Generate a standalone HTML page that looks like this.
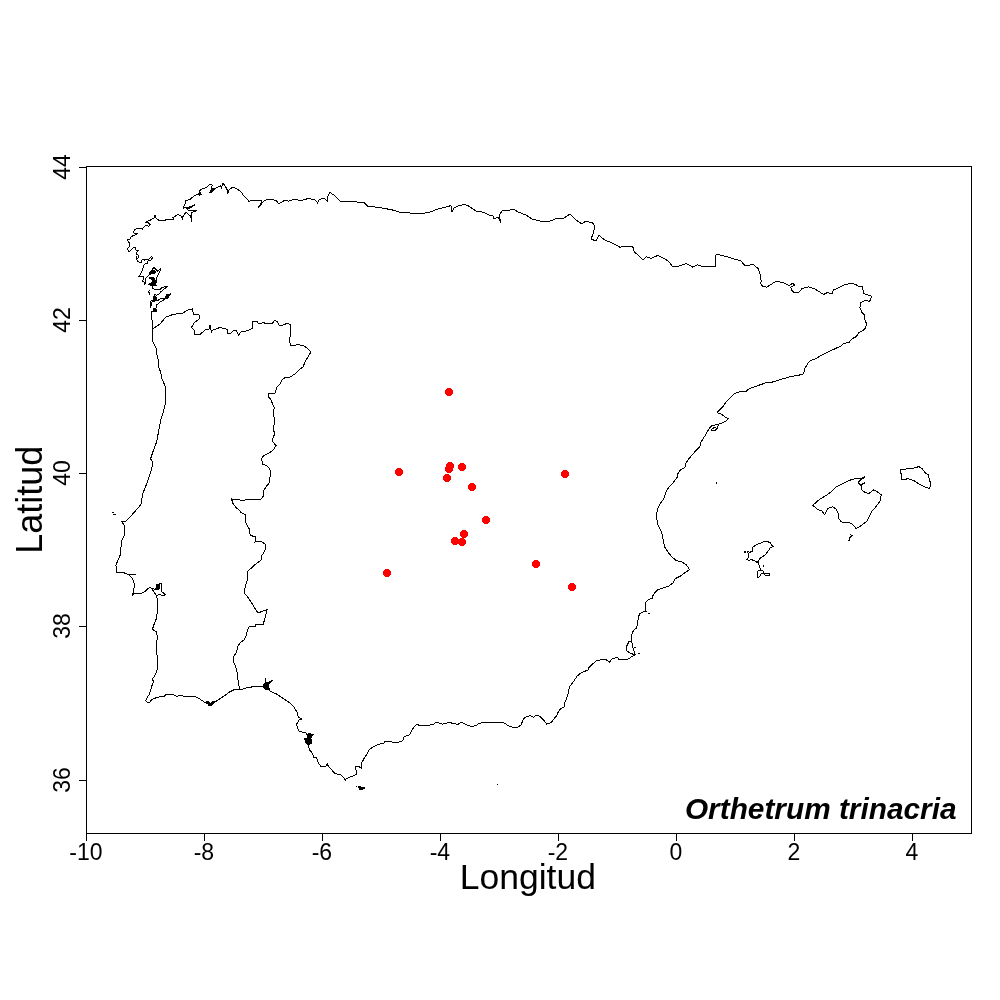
<!DOCTYPE html>
<html><head><meta charset="utf-8"><title>Orthetrum trinacria</title>
<style>html,body{margin:0;padding:0;background:#fff;width:1000px;height:1000px;overflow:hidden}svg{display:block}</style>
</head><body>
<svg width="1000" height="1000" viewBox="0 0 1000 1000">
<rect x="0" y="0" width="1000" height="1000" fill="#fff"/>
<g fill="none" stroke="#000" stroke-width="1" stroke-linejoin="miter" shape-rendering="crispEdges">
<path d="M152.0 320.0 L151.5 316.8 L151.3 313.6 L151.6 311.4 L157.1 311.4 L153.9 310.4 L153.6 308.8 L155.5 308.5 L156.4 307.2 L156.8 304.6 L158.7 303.4 L160.9 301.4 L163.2 300.5 L164.8 298.9 L168.3 297.9 L168.3 296.3 L170.5 293.8 L166.4 295.0 L165.4 297.6 L163.5 298.9 L160.3 298.6 L158.4 300.2 L154.2 301.1 L152.0 301.8 L151.6 304.6 L150.5 306.6 L150.4 303.4 L151.0 301.1 L153.6 300.2 L153.6 297.6 L154.5 296.3 L154.5 294.4 L156.4 295.4 L159.0 293.9 L161.2 291.4 L164.1 289.2 L167.3 286.3 L162.3 287.4 L159.4 289.9 L155.1 289.9 L152.9 288.5 L152.6 286.3 L148.6 284.5 L152.6 285.6 L156.2 285.2 L155.4 283.4 L156.9 281.3 L156.2 278.4 L158.3 274.8 L159.8 271.2 L161.2 267.6 L157.6 271.2 L155.8 269.4 L154.0 267.6 L151.1 270.8 L149.7 272.6 L149.3 274.8 L146.8 277.0 L145.7 278.4 L145.4 282.4 L144.6 284.5 L144.3 282.0 L142.1 280.9 L143.6 279.1 L143.2 276.6 L139.2 276.2 L140.3 274.4 L142.1 271.2 L143.2 266.9 L144.0 265.0 L145.6 263.4 L147.6 263.0 L148.0 261.0 L151.2 259.8 L152.4 257.8 L151.6 256.6 L148.8 259.0 L146.4 259.8 L144.4 260.2 L144.0 259.0 L142.0 259.8 L141.6 262.2 L140.0 263.0 L138.0 261.4 L136.6 259.4 L136.8 257.4 L137.6 258.6 L139.2 257.0 L138.4 255.4 L136.0 253.8 L137.2 251.8 L138.2 250.4 L135.2 249.8 L135.2 247.8 L133.6 247.8 L132.0 248.8 L130.4 250.6 L129.0 252.2 L128.6 251.0 L127.4 249.2 L128.6 247.4 L129.6 246.2 L130.0 244.2 L129.2 242.6 L128.0 241.0 L127.6 239.4 L130.0 239.0 L130.8 237.0 L131.0 236.8 L133.4 235.6 L138.2 233.5 L134.6 233.2 L132.8 232.0 L134.0 231.4 L134.6 229.3 L138.2 228.7 L142.4 229.0 L144.8 226.0 L147.2 225.4 L148.7 226.6 L150.2 224.8 L148.4 222.7 L145.7 222.4 L146.6 221.2 L150.2 220.6 L151.4 219.1 L154.4 217.9 L155.0 215.5 L155.6 217.9 L157.4 219.4 L159.8 220.9 L163.4 220.9 L167.0 219.4 L173.6 219.1 L173.0 217.6 L174.8 216.4 L177.8 214.6 L180.8 215.8 L182.9 219.4 L182.6 217.0 L185.0 213.4 L185.6 212.3 L187.7 213.7 L190.5 216.1 L191.9 221.4 L191.5 215.8 L191.9 212.3 L196.8 210.9 L189.1 210.9 L187.0 208.8 L190.5 207.7 L195.0 204.6 L191.2 206.7 L186.3 207.4 L183.5 208.1 L184.5 204.9 L185.9 202.5 L185.6 200.7 L190.5 199.0 L193.3 196.5 L197.5 194.4 L200.3 194.8 L199.6 192.0 L200.3 189.5 L204.5 188.1 L207.6 186.7 L209.4 184.6 L212.2 185.0 L211.8 187.8 L210.1 192.0 L212.9 189.9 L215.0 188.5 L217.8 187.1 L220.6 185.7 L221.6 188.5 L222.0 185.7 L222.7 183.6 L224.1 184.3 L225.5 186.4 L227.2 189.9 L227.9 193.0 L229.0 189.9 L231.8 187.8 L234.6 187.8 L237.4 189.2 L240.9 191.6 L243.0 194.8 L248.1 200.2 L248.1 202.0 L250.8 200.7 L261.6 200.7 L260.7 203.8 L258.0 208.3 L263.4 201.6 L267.0 199.3 L276.0 200.2 L278.7 203.8 L285.0 200.2 L288.6 201.1 L294.9 199.3 L301.2 200.7 L308.4 198.4 L315.6 200.2 L317.4 202.9 L319.2 199.3 L324.6 198.4 L327.3 201.1 L328.2 194.8 L330.0 192.6 L333.6 194.8 L337.2 198.4 L340.8 202.0 L343.5 201.6 L357.0 202.0 L364.2 202.4 L367.8 206.5 L371.4 206.5 L384.0 208.3 L393.0 210.1 L402.0 212.8 L410.0 213.0 L422.0 213.6 L430.0 212.0 L438.0 209.0 L446.0 207.0 L451.0 205.6 L452.0 212.0 L454.0 208.0 L458.0 206.0 L464.0 204.4 L468.0 205.6 L473.0 209.0 L476.0 211.0 L484.0 212.4 L489.0 215.0 L493.0 216.0 L494.0 219.0 L498.0 217.0 L501.0 223.0 L499.0 215.0 L503.0 210.0 L510.0 210.0 L513.6 209.0 L518.0 212.0 L526.0 215.0 L532.0 219.0 L540.0 221.0 L550.0 221.0 L558.0 218.0 L564.0 218.0 L570.0 214.0 L576.0 220.0 L582.0 224.0 L585.0 221.6 L592.0 222.4 L595.0 226.0 L593.0 234.0 L591.0 239.0 L596.0 241.0 L599.0 235.0 L602.0 238.0 L606.4 240.8 L612.8 243.2 L620.0 247.2 L625.6 246.4 L632.8 246.9 L634.4 252.0 L638.4 255.2 L642.9 260.0 L646.4 256.8 L651.2 258.4 L657.6 255.5 L664.0 258.4 L668.8 261.6 L672.8 266.7 L676.8 266.7 L686.4 263.5 L692.8 267.2 L697.6 264.8 L702.4 266.7 L712.0 266.1 L716.0 266.7 L715.2 255.2 L717.6 254.4 L728.0 257.1 L734.4 259.2 L740.8 260.8 L744.8 265.6 L753.6 264.5 L758.4 269.0 L760.5 276.0 L761.2 281.6 L760.5 283.0 L762.6 286.5 L766.8 287.2 L771.0 284.4 L775.2 281.9 L779.4 281.9 L783.6 283.0 L789.2 285.8 L792.7 283.0 L794.8 285.1 L790.6 287.2 L792.0 290.7 L794.8 293.1 L799.7 291.7 L801.8 288.6 L808.8 286.9 L814.4 288.6 L820.0 292.1 L823.5 294.5 L827.0 292.8 L832.6 293.5 L833.3 290.0 L838.2 287.9 L845.2 284.4 L850.8 283.7 L855.0 284.1 L859.2 286.5 L862.7 286.9 L863.4 293.5 L867.6 294.9 L871.8 296.3 L869.7 301.2 L864.8 300.5 L860.6 302.6 L859.9 307.5 L862.0 312.4 L864.8 315.2 L864.6 319.2 L866.7 324.1 L865.3 328.3 L863.2 330.4 L859.0 332.5 L856.2 336.7 L852.0 338.8 L849.2 342.3 L843.6 343.7 L840.1 346.5 L835.2 348.6 L826.8 352.8 L819.8 356.3 L815.6 358.7 L809.3 361.2 L807.2 364.7 L804.4 368.9 L803.7 373.8 L798.8 375.2 L790.4 376.6 L782.0 379.1 L773.6 381.9 L766.6 382.6 L759.6 385.0 L754.0 387.1 L752.0 387.6 L748.0 389.6 L745.6 392.0 L740.8 391.6 L736.0 392.8 L733.6 394.4 L729.6 398.4 L725.6 402.4 L723.2 406.4 L720.0 409.6 L717.6 412.0 L718.4 413.6 L720.8 413.6 L724.8 416.8 L728.0 418.4 L726.4 420.8 L721.6 423.2 L717.6 424.4 L712.0 425.6 L709.6 428.0 L707.2 432.0 L705.6 435.2 L703.2 438.4 L700.8 442.4 L700.0 446.4 L696.0 450.4 L692.8 454.4 L689.0 458.4 L686.2 462.6 L684.8 467.5 L680.6 469.6 L677.8 473.8 L677.1 477.3 L673.6 482.2 L669.4 486.4 L665.9 492.0 L663.8 499.0 L661.0 502.5 L658.2 507.4 L656.8 513.0 L656.8 518.6 L658.2 525.6 L661.7 532.6 L663.1 539.6 L664.5 546.6 L668.0 552.2 L672.2 557.1 L676.4 560.6 L682.0 562.0 L686.2 564.8 L689.7 569.7 L686.2 571.8 L680.6 576.0 L675.0 578.8 L672.9 583.0 L668.8 586.0 L664.0 587.8 L658.0 589.6 L654.4 593.2 L652.6 596.2 L652.0 598.6 L649.0 599.2 L646.0 602.2 L645.4 606.4 L646.0 611.2 L641.8 612.4 L639.4 614.2 L638.2 618.4 L637.6 624.4 L636.4 628.0 L633.4 630.4 L631.6 635.2 L631.6 641.2 L633.0 648.0 L635.2 655.0 L631.6 656.8 L628.0 659.2 L623.2 659.8 L618.4 659.8 L617.8 657.4 L612.4 658.6 L609.4 662.2 L606.4 659.8 L601.6 659.8 L596.8 660.4 L592.0 664.6 L589.0 667.6 L587.8 670.6 L584.4 671.2 L580.8 673.0 L577.2 676.0 L574.8 679.6 L572.4 683.2 L569.4 686.8 L568.2 693.4 L566.4 699.4 L564.6 703.0 L564.0 707.2 L560.4 709.0 L558.0 712.6 L556.8 715.6 L554.4 718.0 L552.6 721.0 L549.6 723.4 L546.6 724.0 L544.8 721.6 L541.2 717.4 L538.8 715.6 L535.8 715.6 L533.4 717.2 L529.8 715.6 L525.0 717.4 L522.6 720.4 L521.4 724.6 L518.4 727.0 L512.4 727.2 L508.2 725.8 L504.0 722.8 L500.4 722.4 L498.0 722.8 L492.0 722.4 L483.4 722.6 L479.0 723.3 L475.7 725.9 L470.2 726.2 L466.9 724.8 L463.6 723.1 L460.9 722.6 L458.1 724.2 L453.2 723.7 L450.4 722.6 L446.0 723.1 L442.7 724.2 L439.4 723.1 L435.6 722.6 L433.9 724.0 L429.5 725.1 L419.6 725.3 L416.3 724.4 L414.1 727.0 L411.9 730.3 L409.7 734.7 L406.4 735.8 L404.2 736.9 L402.6 740.7 L399.8 741.6 L396.5 742.9 L392.7 742.4 L389.9 741.3 L385.0 741.5 L384.0 743.2 L380.0 744.0 L376.0 745.5 L372.0 747.5 L369.0 750.0 L367.0 754.0 L364.5 757.5 L363.0 760.5 L361.5 763.0 L361.2 768.0 L359.5 767.0 L358.0 766.5 L355.5 766.8 L356.0 770.0 L356.0 774.5 L354.0 775.5 L350.0 777.0 L346.0 779.0 L345.5 780.0 L344.0 778.0 L341.0 775.0 L335.0 773.5 L333.0 771.5 L328.0 765.5 L327.5 763.5 L326.0 766.0 L320.5 766.0 L319.0 764.0 L316.5 758.0 L313.5 757.0 L312.7 753.5 L310.0 750.5 L308.5 746.5 L307.5 744.0 L305.5 742.0 L306.0 740.0 L304.0 738.5 L306.5 739.0 L308.0 740.5 L310.0 740.0 L311.0 737.5 L313.5 734.5 L311.0 734.5 L309.5 733.5 L307.0 734.5 L305.5 732.2 L302.0 732.0 L299.5 731.9 L298.0 729.0 L296.5 725.0 L296.8 723.8 L299.0 720.0 L301.8 718.9 L298.5 717.2 L296.8 711.7 L293.5 706.2 L289.1 702.4 L282.5 698.0 L275.9 693.6 L271.5 691.9 L268.2 689.7 L266.0 687.5 L262.7 686.4 L255.0 686.6 L247.3 687.5 L242.9 689.2 L239.6 689.9 L234.1 689.7 L229.7 691.9 L225.3 695.2 L218.7 699.6 L214.3 702.4 L211.0 705.2 L207.0 703.6 L203.0 701.2 L199.0 698.4 L195.8 696.8 L191.0 696.6 L187.8 697.0 L184.6 696.4 L182.2 695.6 L176.6 696.2 L173.4 694.8 L169.4 694.2 L165.4 694.4 L164.6 696.8 L162.2 696.0 L158.2 697.2 L154.2 698.4 L151.0 700.4 L149.0 703.2 L145.4 700.8 L147.0 698.0 L149.4 694.0 L150.6 690.0 L151.8 686.0 L153.4 682.0 L152.6 678.8 L155.8 674.0 L157.0 670.0 L157.8 666.0 L157.4 662.0 L156.6 648.0 L157.2 636.0 L156.6 631.8 L152.4 629.4 L154.2 624.0 L156.6 618.0 L157.8 607.2 L157.2 600.0 L156.8 596.0 L158.5 594.5 L161.0 595.0 L164.0 595.5 L165.5 594.8 L163.0 592.5 L161.3 591.5 L161.3 583.2 L160.0 583.2 L159.5 585.5 L158.5 584.2 L156.5 584.2 L156.5 587.5 L155.5 589.5 L153.0 588.6 L151.4 588.0 L149.6 587.6 L146.9 589.4 L144.5 591.8 L141.8 593.0 L140.0 593.3 L135.0 593.4 L132.6 595.2 L133.8 590.4 L134.4 584.4 L132.6 578.4 L129.0 574.8 L135.6 574.2 L127.2 574.2 L123.0 572.4 L117.0 572.4 L116.4 567.6 L115.8 565.8 L117.6 561.0 L120.0 555.6 L121.8 540.4 L124.8 534.4 L124.8 526.0 L121.8 521.8 L126.0 521.2 L133.8 512.8 L141.0 504.4 L142.8 493.6 L145.2 487.6 L148.8 478.0 L151.8 468.4 L153.0 462.4 L150.6 458.8 L153.0 451.6 L156.6 442.0 L158.8 430.4 L160.0 424.0 L161.2 418.4 L162.8 413.6 L164.0 408.8 L165.2 404.0 L166.0 398.4 L165.6 393.6 L165.2 386.4 L163.6 382.4 L161.6 378.4 L160.8 372.0 L159.2 368.8 L158.2 364.8 L158.6 360.0 L157.5 358.0 L156.0 348.0 L152.5 341.0 L152.0 329.0Z"/>
<path d="M152.5 329.0 L160.0 324.0 L166.0 317.0 L173.0 314.5 L183.0 313.0 L188.0 310.0 L192.5 309.0 L193.5 314.5 L199.0 315.0 L199.0 319.0 L194.0 323.0 L191.5 327.5 L194.0 330.0 L195.0 334.5 L200.0 334.5 L205.0 330.0 L209.0 329.5 L210.0 325.5 L211.5 332.0 L213.0 330.0 L220.0 327.5 L224.0 328.5 L227.5 329.5 L227.5 333.5 L231.0 333.0 L233.5 330.5 L236.5 331.0 L238.5 335.0 L241.0 332.0 L245.0 331.5 L250.0 329.5 L252.5 328.0 L252.5 321.5 L257.0 321.5 L259.0 324.0 L263.0 322.5 L266.0 323.5 L272.0 324.0 L274.5 320.5 L277.5 321.5 L279.0 325.0 L283.0 325.0 L288.0 323.0 L290.5 325.0 L290.0 329.0 L291.0 334.0 L289.0 340.0 L290.5 345.0 L294.0 346.0 L297.0 344.5 L303.0 345.5 L307.0 348.0 L311.0 352.0 L308.0 357.0 L305.0 362.0 L303.0 367.0 L299.0 370.0 L295.0 374.0 L290.0 377.0 L285.0 377.5 L282.0 380.0 L280.0 384.0 L277.0 387.0 L275.0 393.0 L268.0 394.0 L268.0 396.0 L271.0 400.0 L273.0 405.0 L274.2 407.2 L273.6 414.4 L274.8 422.8 L273.0 428.8 L274.8 433.6 L272.4 439.6 L273.0 442.0 L276.0 445.6 L274.2 448.6 L271.2 451.6 L267.0 454.0 L263.4 455.8 L261.6 458.8 L262.8 464.2 L266.4 465.4 L269.4 468.4 L270.6 472.0 L270.0 476.8 L269.4 482.8 L266.4 486.4 L264.0 490.0 L263.4 496.0 L261.0 499.0 L255.0 499.4 L246.6 499.6 L243.0 500.8 L238.2 499.6 L231.6 499.0 L232.8 503.2 L235.8 507.4 L239.4 510.4 L241.0 512.5 L246.0 515.0 L245.0 521.0 L247.0 525.0 L249.5 529.5 L249.0 533.0 L251.0 535.5 L255.5 537.0 L255.0 542.0 L261.0 541.5 L265.0 544.0 L266.0 548.5 L264.0 552.0 L261.0 557.0 L261.0 560.0 L258.5 562.0 L255.0 564.5 L252.0 567.5 L248.0 571.0 L247.5 579.0 L246.0 584.0 L244.5 590.0 L244.0 593.0 L247.0 596.0 L251.0 602.0 L253.0 605.0 L256.0 610.0 L258.0 613.0 L263.0 611.0 L267.0 609.5 L265.5 616.0 L264.0 621.5 L263.0 625.0 L259.0 624.5 L256.0 624.0 L255.0 626.5 L249.0 627.0 L247.5 630.0 L246.0 636.0 L244.0 640.0 L240.0 643.0 L238.0 646.0 L236.5 652.0 L233.5 657.0 L233.0 661.0 L235.5 666.0 L237.0 672.0 L238.0 680.0 L239.0 686.0 L239.6 689.9"/>
<path d="M812.7 505.4 L819.0 499.8 L826.0 495.6 L831.6 491.4 L835.8 487.2 L842.8 483.7 L849.8 480.2 L856.8 478.1 L859.6 478.8 L865.2 476.7 L860.3 480.2 L858.2 482.3 L860.3 485.1 L865.2 482.3 L861.0 485.8 L861.0 489.3 L864.5 492.1 L868.7 493.5 L873.6 490.0 L877.1 491.7 L881.3 494.9 L879.9 501.2 L876.4 506.1 L872.2 511.0 L869.4 516.6 L866.6 521.5 L861.0 525.7 L856.1 528.5 L852.6 524.3 L849.8 522.9 L841.4 521.9 L838.6 518.7 L837.9 512.4 L836.5 509.6 L833.0 506.8 L828.1 508.2 L826.0 512.4 L824.6 514.5 L821.8 511.0 L817.6 509.6 L814.8 506.8 L812.7 505.4Z"/>
<path d="M900.9 469.7 L908.6 468.7 L917.0 467.6 L918.4 466.2 L922.6 469.0 L924.7 472.5 L928.2 474.6 L929.6 480.9 L931.0 483.0 L929.6 488.6 L925.4 487.2 L919.8 484.4 L914.2 480.9 L908.6 478.8 L901.6 479.5 L901.6 474.6 L900.2 471.8 L900.9 469.7Z"/>
<path d="M752.6 551.5 L752.6 547.6 L754.8 545.7 L758.7 543.8 L763.6 541.8 L768.0 541.8 L770.8 543.2 L771.3 544.9 L773.5 546.8 L770.8 547.1 L769.1 549.8 L767.5 552.0 L764.7 555.3 L760.9 557.5 L759.2 559.7 L758.1 561.6 L757.0 562.5 L754.8 560.8 L751.5 559.7 L748.8 560.3 L746.8 559.7 L748.2 557.5 L748.8 554.2 L747.4 551.5 L749.3 552.3 L752.6 551.5Z"/>
<path d="M757.6 571.3 L757.6 577.3 L759.8 576.8 L760.9 574.0 L763.6 573.5 L765.8 575.7 L769.7 575.7 L769.1 573.5 L764.7 574.0 L763.0 570.7 L759.2 570.7 L757.6 571.3Z"/>
<path d="M850.5 534.5 L852.0 535.5 L850.0 537.5 L849.5 539.0 L848.6 540.4 L850.5 539.5"/>
<path d="M758.1 561.6 L759.8 567.4 L760.9 570.2"/>
<path d="M718.4 425.2 L717.0 428.5 L714.5 430.8 L712.0 430.8 L711.6 429.2 L713.6 428.0 L716.0 427.5"/>
<path d="M631.6 641.2 L629.2 641.2 L626.2 647.2 L626.8 650.8 L630.4 653.2 L635.2 655.0"/>
<path d="M151.4 588.2 L153.5 591.2 L156.8 596.0"/>
</g>
<g fill="#000" stroke="none" shape-rendering="crispEdges">
<path d="M262.5 686.0 L263.5 684.0 L264.6 682.5 L264.8 679.5 L265.5 678.0 L266.2 679.5 L266.3 682.0 L267.5 682.5 L270.5 680.8 L273.6 679.2 L273.0 680.5 L269.5 684.0 L269.3 686.5 L269.8 689.5 L268.0 690.5 L265.0 689.5 L262.5 687.5Z"/>
<path d="M205.5 700.5 L207.0 701.5 L208.5 701.0 L210.0 703.0 L211.5 701.5 L213.0 700.8 L216.0 700.5 L214.0 703.0 L212.0 705.0 L210.5 706.5 L208.5 705.5 L206.5 703.0Z"/>
<path d="M306.5 734.5 L309.0 733.2 L311.0 733.5 L313.9 733.5 L313.5 735.0 L311.0 736.0 L310.5 738.0 L312.0 740.0 L312.5 742.5 L311.0 744.0 L308.5 745.0 L307.0 744.2 L306.0 741.5 L304.0 740.0 L303.2 739.0 L305.0 738.5 L306.5 737.5Z"/>
<path d="M155.5 585.0 L157.0 584.0 L158.6 584.2 L159.8 586.5 L159.6 589.0 L158.6 590.4 L157.0 590.3 L155.5 589.2Z"/>
<path d="M148.5 277.0 L151.0 276.5 L153.5 277.5 L155.0 279.0 L156.5 281.5 L156.0 284.0 L154.5 285.2 L151.0 285.2 L148.3 284.8 L149.0 283.0 L151.5 282.5 L152.5 281.0 L151.0 279.5 L148.5 279.0Z"/>
<path d="M150.0 272.0 L152.0 270.5 L154.0 269.5 L156.0 271.5 L155.0 273.5 L152.5 274.0 L150.5 274.5Z"/>
<path d="M153.3 296.0 L155.5 295.5 L156.8 297.0 L156.5 300.0 L154.5 301.0 L153.3 300.0Z"/>
<path d="M166.0 294.0 L170.5 293.5 L170.5 294.8 L168.5 296.0 L168.5 298.0 L166.0 298.5 L165.5 296.5Z"/>
<path d="M153.2 308.4 L155.5 308.2 L157.7 311.0 L153.2 311.5Z"/>
<path d="M150.5 289.5 L148.5 290.5 L148.2 292.5 L149.5 294.7 L149.8 293.0 L149.4 291.2Z"/>
<path d="M210.0 190.5 L212.0 188.5 L214.0 187.8 L215.7 188.3 L214.0 190.5 L212.0 192.5 L210.2 192.7Z"/>
<path d="M198.2 193.0 L200.5 192.0 L201.7 194.5 L199.5 195.5Z"/>
</g>
<rect x="716" y="482" width="1" height="2" fill="#000"/>
<rect x="497" y="784" width="1" height="1" fill="#000"/>
<rect x="112" y="512" width="2" height="1" fill="#000"/>
<rect x="113" y="514" width="3" height="1" fill="#000"/>
<rect x="744" y="551" width="2" height="2" fill="#000"/>
<rect x="763" y="565" width="1" height="2" fill="#000"/>
<rect x="648" y="613" width="2" height="1" fill="#000"/>
<rect x="634" y="647" width="2" height="1" fill="#000"/>
<rect x="638" y="653" width="2" height="1" fill="#000"/>
<rect x="356" y="786" width="1" height="1" fill="#000"/>
<rect x="358" y="786" width="3" height="1" fill="#000"/>
<rect x="358" y="787" width="7" height="1" fill="#000"/>
<rect x="359" y="788" width="6" height="1" fill="#000"/>
<rect x="359" y="789" width="4" height="1" fill="#000"/>
<rect x="86.5" y="166.5" width="885" height="667" fill="none" stroke="#000" stroke-width="1" shape-rendering="crispEdges"/>
<path d="M86.5 833.5 V840.5 M204.5 833.5 V840.5 M322.5 833.5 V840.5 M440.5 833.5 V840.5 M558.5 833.5 V840.5 M676.5 833.5 V840.5 M794.5 833.5 V840.5 M912.5 833.5 V840.5 M79 167.5 H86.5 M79 320.5 H86.5 M79 473.5 H86.5 M79 626.5 H86.5 M79 780.5 H86.5" fill="none" stroke="#000" stroke-width="1" shape-rendering="crispEdges"/>
<g fill="#f00" stroke="none" shape-rendering="crispEdges">
<circle cx="449.0" cy="391.9" r="3.95"/>
<circle cx="398.9" cy="471.9" r="3.95"/>
<circle cx="450.0" cy="465.8" r="3.95"/>
<circle cx="448.9" cy="468.9" r="3.95"/>
<circle cx="462.0" cy="466.9" r="3.95"/>
<circle cx="447.0" cy="477.9" r="3.95"/>
<circle cx="472.0" cy="486.9" r="3.95"/>
<circle cx="565.1" cy="474.0" r="3.95"/>
<circle cx="485.9" cy="519.9" r="3.95"/>
<circle cx="464.0" cy="533.8" r="3.95"/>
<circle cx="454.9" cy="540.9" r="3.95"/>
<circle cx="462.1" cy="541.9" r="3.95"/>
<circle cx="387.0" cy="572.9" r="3.95"/>
<circle cx="536.1" cy="563.9" r="3.95"/>
<circle cx="571.9" cy="587.0" r="3.95"/>
</g>
<g font-family="Liberation Sans, Arial, sans-serif" font-size="23" fill="#000" text-anchor="middle">
<text x="85.9" y="859.8">-10</text>
<text x="203.9" y="859.8">-8</text>
<text x="321.9" y="859.8">-6</text>
<text x="439.9" y="859.8">-4</text>
<text x="557.9" y="859.8">-2</text>
<text x="675.9" y="859.8">0</text>
<text x="793.9" y="859.8">2</text>
<text x="911.9" y="859.8">4</text>
<text transform="translate(70,167.0) rotate(-90)">44</text>
<text transform="translate(70,320.0) rotate(-90)">42</text>
<text transform="translate(70,473.0) rotate(-90)">40</text>
<text transform="translate(70,626.0) rotate(-90)">38</text>
<text transform="translate(70,780.0) rotate(-90)">36</text>
</g>
<text x="527.8" y="889" font-family="Liberation Sans, Arial, sans-serif" font-size="35.5" text-anchor="middle">Longitud</text>
<text transform="translate(42,499.8) rotate(-90)" font-family="Liberation Sans, Arial, sans-serif" font-size="36" text-anchor="middle">Latitud</text>
<text x="956.5" y="818.7" font-family="Liberation Sans, Arial, sans-serif" font-size="29.8" font-weight="bold" font-style="italic" text-anchor="end">Orthetrum trinacria</text>
</svg>
</body></html>
